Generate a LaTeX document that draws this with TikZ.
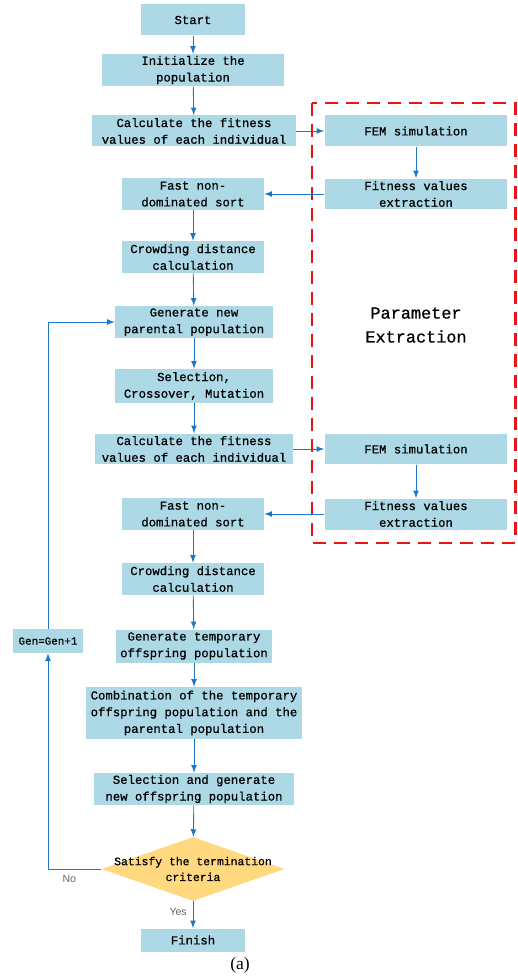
\documentclass[tikz,border=0pt]{standalone}
\usepackage{fontspec}
\usepackage{xcolor}
\usetikzlibrary{shapes,arrows,positioning,calc}
\setmainfont{Liberation Serif}
\newfontfamily\boxfont[FakeBold=0.7]{Liberation Mono}
\newfontfamily\tagfont{Liberation Sans}
\definecolor{boxblue}{RGB}{173,216,230}
\definecolor{decyellow}{RGB}{255,216,128}
\definecolor{linkblue}{RGB}{30,118,200}
\definecolor{dashred}{RGB}{235,20,20}

\begin{document}
\begin{tikzpicture}[x=0.02cm, y=-0.02cm,
    box/.style={rectangle, fill=boxblue, align=center, inner sep=1pt,
        font=\boxfont\fontsize{7}{9.5}\selectfont, minimum height=0.62cm},
    decision/.style={diamond, fill=decyellow, inner sep=0pt,
        minimum width=3.66cm, minimum height=1.28cm},
    link/.style={-latex, linkblue, line width=0.5pt},
    tag/.style={font=\tagfont\fontsize{6}{7}\selectfont, text=black!60}]
    \useasboundingbox (0,0) rectangle (517,976);

    % Main column
    \node[box, minimum width=2.1cm] (start) at (193,20) {Start};
    \node[box, minimum width=3.66cm, minimum height=0.64cm] (init) at (193,70) {Initialize the\\population};
    \node[box, minimum width=4.08cm] (calc1) at (194,131) {Calculate the fitness\\values of each individual};
    \node[box, minimum width=2.84cm, minimum height=0.64cm] (sort1) at (193,194) {Fast non-\\dominated sort};
    \node[box, minimum width=2.84cm, minimum height=0.64cm] (crowd1) at (193,257) {Crowding distance\\calculation};
    \node[box, minimum width=3.16cm, minimum height=0.64cm] (parent) at (194,322) {Generate new\\parental population};
    \node[box, minimum width=3.16cm, minimum height=0.68cm] (select) at (194,386) {Selection,\\Crossover, Mutation};
    \node[box, minimum width=3.96cm] (calc2) at (194,449) {Calculate the fitness\\values of each individual};
    \node[box, minimum width=2.84cm, minimum height=0.64cm] (sort2) at (193,514) {Fast non-\\dominated sort};
    \node[box, minimum width=2.84cm, minimum height=0.64cm] (crowd2) at (193,579) {Crowding distance\\calculation};
    \node[box, minimum width=3.12cm, minimum height=0.66cm] (temp) at (194,646) {Generate temporary\\offspring population};
    \node[box, minimum width=4.34cm, minimum height=1.04cm] (comb) at (194,713) {Combination of the temporary\\offspring population and the\\parental population};
    \node[box, minimum width=4.02cm, minimum height=0.64cm] (selgen) at (194,789) {Selection and generate\\new offspring population};
    \node[decision] (check) at (193,869) {};
    \node[font=\boxfont\fontsize{6.5}{9}\selectfont, align=center] (checktext) at (check) {Satisfy the termination\\criteria};
    \node[box, minimum width=2.1cm, minimum height=0.46cm] (finish) at (193,940) {Finish};

    % Parameter extraction
    \draw[dashred, line width=1.7pt, dash pattern=on 0.26cm off 0.16cm] (312,103) rectangle (515,543);
    \node[box, minimum width=3.66cm] (fem1) at (416,131) {FEM simulation};
    \node[box, minimum width=3.66cm] (ext1) at (416,194) {Fitness values\\extraction};
    \node[box, minimum width=3.66cm] (fem2) at (416,449) {FEM simulation};
    \node[box, minimum width=3.66cm] (ext2) at (416,514) {Fitness values\\extraction};
    \node[align=center, font=\boxfont\fontsize{9.6}{13.6}\selectfont] (param) at (416,325) {Parameter\\Extraction};

    % Loop counter
    \node[box, minimum width=1.4cm, minimum height=0.48cm, font=\boxfont\fontsize{6.2}{7}\selectfont] (gen) at (48,641) {Gen=Gen+1};

    % Arrows
    \draw[link] (start) -- (init);
    \draw[link] (init) -- (calc1);
    \draw[link] (calc1) -- (fem1);
    \draw[link] (fem1) -- (ext1);
    \draw[link] (ext1) -- (sort1);
    \draw[link] (sort1) -- (crowd1);
    \draw[link] (crowd1) -- (parent);
    \draw[link] (parent) -- (select);
    \draw[link] (select) -- (calc2);
    \draw[link] (calc2) -- (fem2);
    \draw[link] (fem2) -- (ext2);
    \draw[link] (ext2) -- (sort2);
    \draw[link] (sort2) -- (crowd2);
    \draw[link] (crowd2) -- (temp);
    \draw[link] (temp) -- (comb);
    \draw[link] (comb) -- (selgen);
    \draw[link] (selgen) -- (check);
    \draw[link] (check) -- node[tag, left, pos=0.4] {Yes} (finish);
    \draw[link] (check.west) -| node[tag, below, pos=0.3] {No} (gen.south);
    \draw[link] (gen.north) |- (parent.west);

    % Caption
    \node[font=\fontsize{10}{12}\selectfont] (caption) at (240,965) {(a)};
\end{tikzpicture}
\end{document}
